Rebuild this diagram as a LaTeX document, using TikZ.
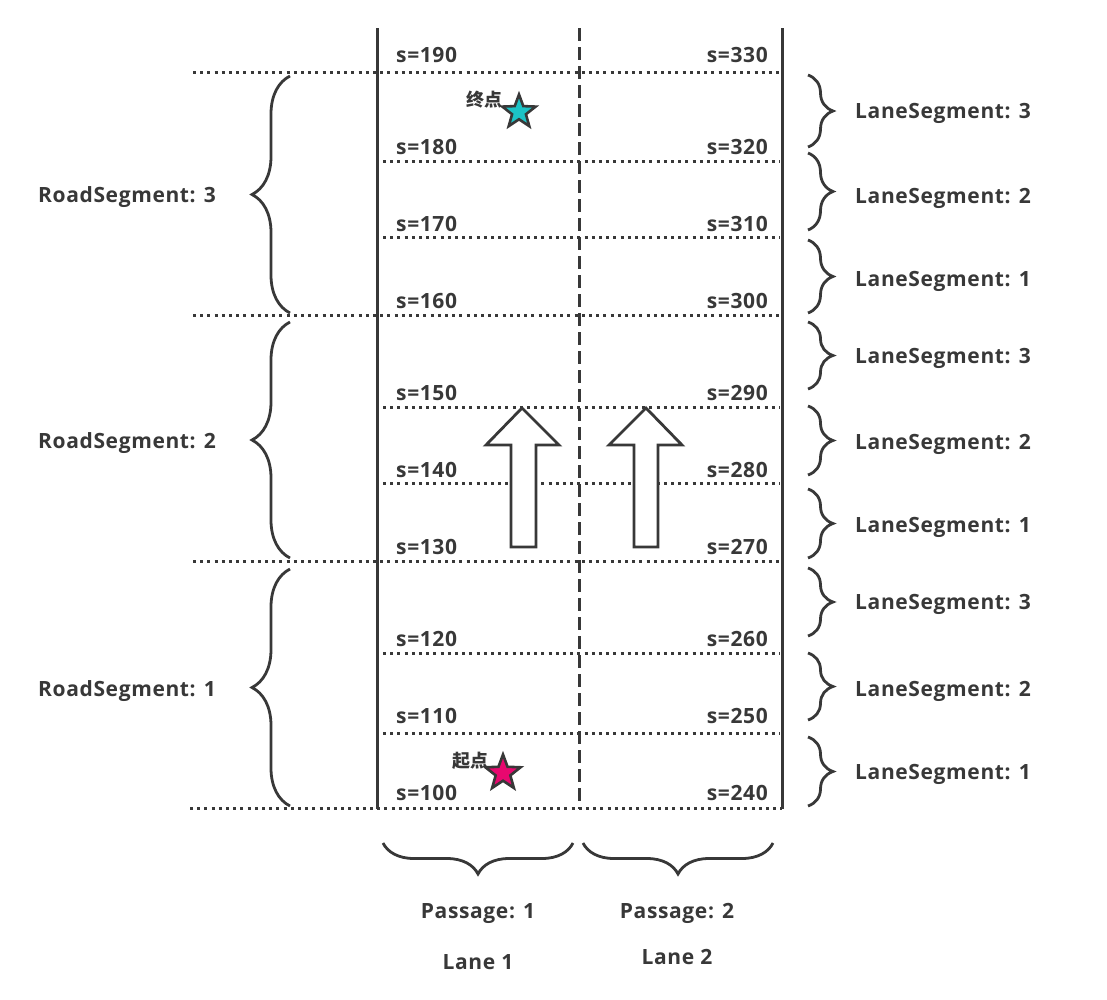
\documentclass[tikz,border=0pt]{standalone}
\usepackage{fontspec}
\setmainfont{Open Sans}[LetterSpace=3]
\newfontfamily\cjk{Noto Sans CJK SC}
\usetikzlibrary{shapes.geometric,decorations.pathreplacing}
\definecolor{ink}{HTML}{383838}
\definecolor{cyanstar}{HTML}{1CC3C6}
\definecolor{pinkstar}{HTML}{E8086F}
\begin{document}
\begin{tikzpicture}[x=1pt,y=-1pt,
  lbl/.style={font=\fontsize{21}{24}\selectfont\bfseries, text=ink, inner sep=0pt},
  cjklbl/.style={font=\cjk\fontsize{18}{20}\selectfont\bfseries, text=ink, inner sep=0pt},
  dotline/.style={ink, line width=3pt, dash pattern=on 3pt off 4.2pt},
  solidline/.style={ink, line width=3pt},
  dashline/.style={ink, line width=3pt, dash pattern=on 13pt off 6pt},
  lbrace/.style={ink, line width=2.8pt, decorate, decoration={brace, amplitude=38pt}},
  rbrace/.style={ink, line width=2.8pt, decorate, decoration={brace, amplitude=25pt}},
  bbrace/.style={ink, line width=2.8pt, decorate, decoration={brace, amplitude=31pt}},
  bigarrow/.style={ink, line width=2.8pt, fill=white, line join=miter},
  starnode/.style={star, star points=5, star point ratio=2.4, minimum size=35pt, inner sep=0pt, draw=ink, line width=2.6pt}]
\useasboundingbox (0,0) rectangle (1107,999);

% horizontal dotted lines
\foreach \yy in {72,315,561}{
  \coordinate (hl\yy) at (193,\yy);
  \coordinate (hr\yy) at (782,\yy);
  \draw[dotline] (hl\yy) -- (hr\yy);
}
\coordinate (hl808) at (190,808);
\coordinate (hr808) at (782,808);
\draw[dotline] (hl808) -- (hr808);
\foreach \yy in {161,237,407,483,653,733}{
  \coordinate (il\yy) at (383,\yy);
  \coordinate (ir\yy) at (780,\yy);
  \draw[dotline] (il\yy) -- (ir\yy);
}

% vertical lines
\coordinate (v1t) at (377,28); \coordinate (v1b) at (377,809);
\coordinate (v2t) at (579,28); \coordinate (v2b) at (579,809);
\coordinate (v3t) at (782,28); \coordinate (v3b) at (782,809);
\draw[solidline] (v1t) -- (v1b);
\draw[dashline] (v2t) -- (v2b);
\draw[solidline] (v3t) -- (v3b);

% s labels
\foreach \yy/\a/\b in {55/190/330,147/180/320,224/170/310,301/160/300,393/150/290,470/140/280,547/130/270,639/120/260,716/110/250,793/100/240}{
  \node[lbl, anchor=west] (sl\a) at (396,\yy) {s=\a};
  \node[lbl, anchor=east] (sr\b) at (768,\yy) {s=\b};
}

% arrows
\draw[bigarrow] (511,547) -- (511,445) -- (486,445) -- (522,408) -- (559,445) -- (536,445) -- (536,547) -- cycle;
\draw[bigarrow] (634,547) -- (634,445) -- (609,445) -- (646,408) -- (682,445) -- (658,445) -- (658,547) -- cycle;

% stars
\node[starnode, fill=cyanstar] (goal) at (519,112) {};
\node[cjklbl, anchor=east] (goallbl) at (503,100) {终点};
\node[starnode, fill=pinkstar, minimum size=37pt] (start) at (503,773) {};
\node[cjklbl, anchor=east] (startlbl) at (489,761) {起点};

% left braces
\coordinate (rb3b) at (290,313); \coordinate (rb3t) at (290,76);
\coordinate (rb2b) at (290,558); \coordinate (rb2t) at (290,322);
\coordinate (rb1b) at (290,806); \coordinate (rb1t) at (290,569);
\draw[lbrace] (rb3b) -- (rb3t);
\draw[lbrace] (rb2b) -- (rb2t);
\draw[lbrace] (rb1b) -- (rb1t);
\node[lbl, anchor=west] (rs3) at (38,197) {RoadSegment: 3};
\node[lbl, anchor=west] (rs2) at (38,443) {RoadSegment: 2};
\node[lbl, anchor=west] (rs1) at (38,691) {RoadSegment: 1};

% right braces
\foreach \t/\bt/\c/\n/\k in {75/147/113/3/a,153/230/198/2/b,240/313/281/1/c,322/389/358/3/d,406/475/444/2/e,489/558/527/1/f,568/636/604/3/g,653/720/691/2/h,737/806/774/1/i}{
  \coordinate (lst\k) at (808,\t);
  \coordinate (lsb\k) at (808,\bt);
  \draw[rbrace] (lst\k) -- (lsb\k);
  \node[lbl, anchor=west] (ls\k) at (855,\c) {LaneSegment: \n};
}

% bottom braces
\coordinate (p1r) at (573,843); \coordinate (p1l) at (383,843);
\coordinate (p2r) at (773,843); \coordinate (p2l) at (583,843);
\draw[bbrace] (p1r) -- (p1l);
\draw[bbrace] (p2r) -- (p2l);
\node[lbl] (pass1) at (478,914) {Passage: 1};
\node[lbl] (lane1) at (478,962) {Lane 1};
\node[lbl] (pass2) at (677,913) {Passage: 2};
\node[lbl] (lane2) at (677,957) {Lane 2};
\end{tikzpicture}
\end{document}
